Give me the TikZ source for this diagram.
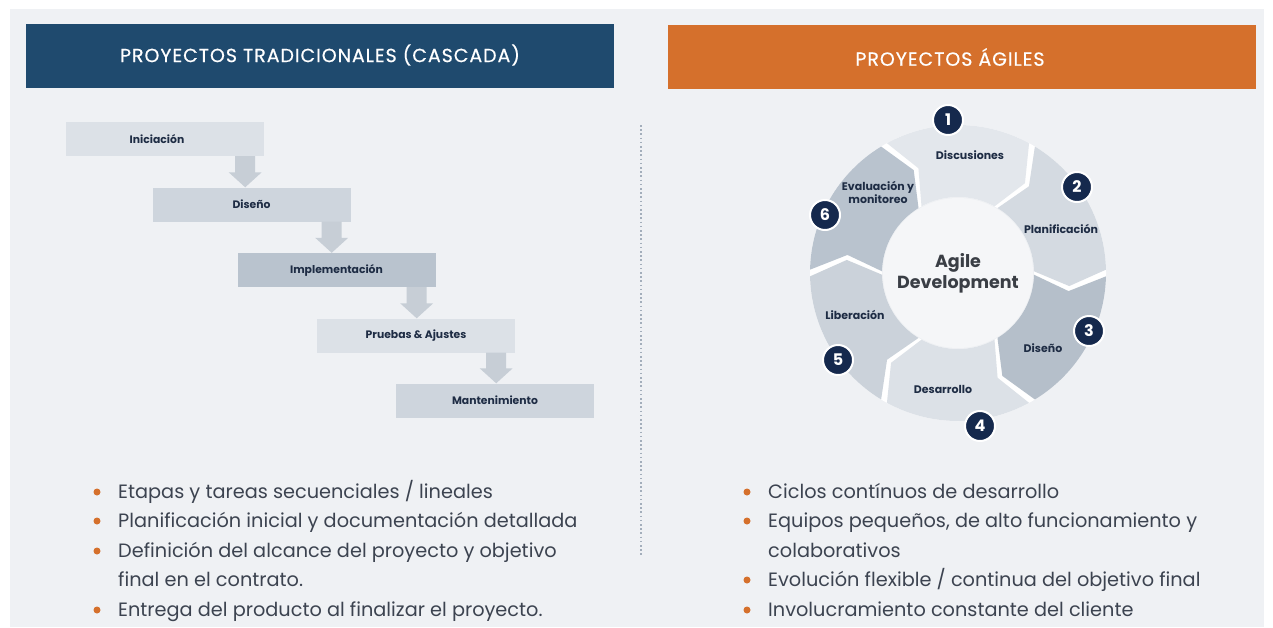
\documentclass[tikz,border=0pt]{standalone}
\usepackage{fontspec}
\setmainfont{Poppins}
\usetikzlibrary{calc}
\definecolor{bgc}{HTML}{EFF1F4}
\definecolor{navy}{HTML}{1F4A6E}
\definecolor{orng}{HTML}{D5702C}
\definecolor{wfdark}{HTML}{1E2C44}
\definecolor{bodytxt}{HTML}{3C4350}
\definecolor{badgec}{HTML}{15294D}
\definecolor{arrc}{HTML}{C7CED6}
\definecolor{boxa}{HTML}{DCE1E7}
\definecolor{boxb}{HTML}{CED5DD}
\definecolor{boxc}{HTML}{B9C3CE}
\definecolor{sA}{HTML}{E3E7EC}
\definecolor{sB}{HTML}{D4DAE1}
\definecolor{sC}{HTML}{B5BFCA}
\definecolor{sD}{HTML}{DCE1E7}
\definecolor{sE}{HTML}{CBD2DA}
\definecolor{sF}{HTML}{B9C3CE}
\definecolor{innerc}{HTML}{F5F6F8}
\definecolor{dotc}{HTML}{A3AEBB}
\definecolor{agilec}{HTML}{3A3E45}
\tikzset{
  hdr/.style={rectangle, inner sep=0pt, minimum width=588pt, minimum height=64pt},
  hdrtext/.style={text=white, font=\fontsize{19}{22}\selectfont\addfontfeatures{LetterSpace=5,FakeBold=0.5}, inner sep=0pt},
  wfbox/.style={rectangle, inner sep=0pt, minimum width=198pt, minimum height=34pt, text=wfdark, font=\bfseries\fontsize{10.8}{12}\selectfont},
  wfarrow/.style={fill=arrc},
  seglabel/.style={text=wfdark, font=\bfseries\fontsize{11}{13}\selectfont, align=center, inner sep=0pt},
  badge/.style={circle, fill=badgec, draw=white, line width=2pt, minimum size=30pt, inner sep=0pt, text=white, font=\bfseries\fontsize{16}{16}\selectfont},
  bullettxt/.style={anchor=base west, inner sep=0pt, text=bodytxt, font=\fontsize{19.3}{21}\selectfont},
  bulletdot/.style={circle, fill=orng, minimum size=7pt, inner sep=0pt}
}
\newcommand\wfconnect[2]{%
  \fill[wfarrow] let \p1=([xshift=-19pt]#1.south east), \p2=(#2.north) in
    (\x1-10pt,\y1) -- (\x1-10pt,\y2+15pt) -- (\x1-16.5pt,\y2+15pt) -- (\x1,\y2)
    -- (\x1+16.5pt,\y2+15pt) -- (\x1+10pt,\y2+15pt) -- (\x1+10pt,\y1) -- cycle;}
\begin{document}
\begin{tikzpicture}[x=1pt,y=-1pt]
\useasboundingbox (0,0) rectangle (1273,627);
\fill[white] (0,0) rectangle (1273,627);
\fill[bgc] (10,9) rectangle (1264,627);

% headers
\node[hdr, fill=navy] (hleft) at (320,56) {};
\node[hdrtext] (tleft) at (320,55) {PROYECTOS TRADICIONALES (CASCADA)};
\node[hdr, fill=orng] (hright) at (962,56.5) {};
\node[hdrtext] (tright) at (950,57) {PROYECTOS ÁGILES};

% dotted divider
\coordinate (dtop) at (641,125);
\coordinate (dbot) at (641,555);
\draw[dotc, line width=1.6pt, dash pattern=on 1.6pt off 2.6pt] (dtop) -- (dbot);

% waterfall
\node[wfbox, fill=boxa] (ini) at (165,139) {\hspace*{-16pt}Iniciación};
\node[wfbox, fill=boxb] (dis) at (251.5,204.5) {Diseño};
\node[wfbox, fill=boxc] (imp) at (336.5,270) {Implementación};
\node[wfbox, fill=boxa] (pru) at (416,335.5) {Pruebas \& Ajustes};
\node[wfbox, fill=boxb] (man) at (495,400.5) {Mantenimiento};
\wfconnect{ini}{dis}
\wfconnect{dis}{imp}
\wfconnect{imp}{pru}
\wfconnect{pru}{man}

% agile cycle
\begin{scope}[shift={(958,273)}, y=1pt]
  \fill[white, even odd rule] (0,0) circle (148) (0,0) circle (76);
  \fill[innerc] (0,0) circle (75);
  \foreach \c/\col in {90/sA, 30/sB, -30/sC, -90/sD, -150/sE, 150/sF} {
    \pgfmathsetmacro\ts{\c+30-1.3}
    \pgfmathsetmacro\te{\c-30+1.3}
    \fill[\col] (\ts:148) arc[start angle=\ts, end angle=\te, radius=148]
      -- (\te-8:112) -- (\te:76) arc[start angle=\te, end angle=\ts, radius=76]
      -- (\ts-8:112) -- cycle;
  }
\end{scope}
\node[text=agilec, font=\bfseries\fontsize{17.5}{21}\selectfont, align=center, inner sep=0pt] (agile) at (958,273) {Agile\\Development};

\node[seglabel] (l1) at (970,155) {Discusiones};
\node[seglabel] (l2) at (1061,229) {Planificación};
\node[seglabel] (l3) at (1043,348) {Diseño};
\node[seglabel] (l4) at (943,389) {Desarrollo};
\node[seglabel] (l5) at (855,315) {Liberación};
\node[seglabel] (l6) at (878,192) {Evaluación y\\monitoreo};

\node[badge] (b1) at (948,120) {1};
\node[badge] (b2) at (1077,187) {2};
\node[badge] (b3) at (1089,331) {3};
\node[badge] (b4) at (980,426) {4};
\node[badge] (b5) at (838,360) {5};
\node[badge] (b6) at (825,215) {6};

% left bullets
\node[bulletdot] (dl1) at (97,492) {};
\node[bulletdot] (dl2) at (97,521) {};
\node[bulletdot] (dl3) at (97,551) {};
\node[bulletdot] (dl4) at (97,610) {};
\node[bullettxt] (tl1) at (118,498) {Etapas y tareas secuenciales / lineales};
\node[bullettxt] (tl2) at (118,527) {Planificación inicial y documentación detallada};
\node[bullettxt] (tl3) at (118,557) {Definición del alcance del proyecto y objetivo};
\node[bullettxt] (tl3b) at (118,586) {final en el contrato.};
\node[bullettxt] (tl4) at (118,616) {Entrega del producto al finalizar el proyecto.};

% right bullets
\node[bulletdot] (dr1) at (747,492) {};
\node[bulletdot] (dr2) at (747,521) {};
\node[bulletdot] (dr3) at (747,580) {};
\node[bulletdot] (dr4) at (747,610) {};
\node[bullettxt] (tr1) at (768,498) {Ciclos contínuos de desarrollo};
\node[bullettxt] (tr2) at (768,527) {Equipos pequeños, de alto funcionamiento y};
\node[bullettxt] (tr2b) at (768,557) {colaborativos};
\node[bullettxt] (tr3) at (768,586) {Evolución flexible / continua del objetivo final};
\node[bullettxt] (tr4) at (768,616) {Involucramiento constante del cliente};
\end{tikzpicture}
\end{document}
